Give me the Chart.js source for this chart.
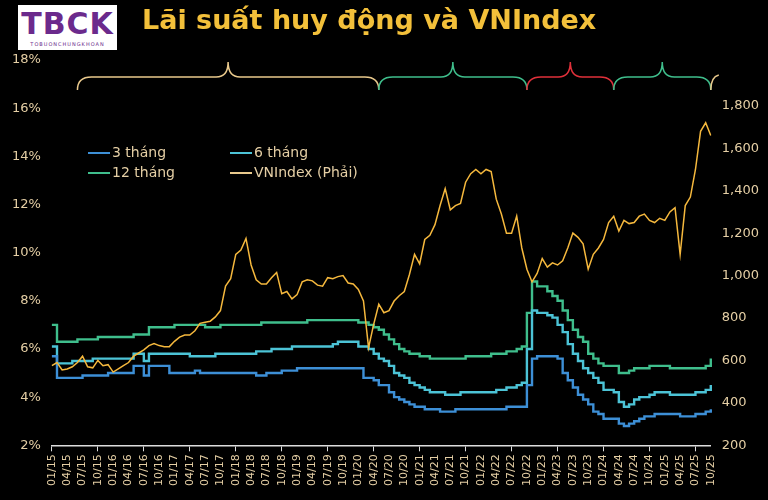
<!DOCTYPE html>
<html>
<head>
<meta charset="utf-8">
<script src="https://cdn.jsdelivr.net/npm/chart.js@4"></script>
<style>
  body { margin: 0; background: #000; }
  #wrap { position: relative; width: 768px; height: 500px; background: #000; }
  #logo { position: absolute; left: 18px; top: 5px; width: 99px; height: 45px; background: #fff; text-align: center; }
  #logo b { display: block; font: bold 30px "DejaVu Sans", sans-serif; color: #6b2a8c; line-height: 34px; margin-top: 2px; letter-spacing: 1px; }
  #logo span { display: block; font: 5px "DejaVu Sans", sans-serif; color: #6b2a8c; letter-spacing: 1px; }
  #title { position: absolute; left: 142px; top: 4px; font: bold 27px "DejaVu Sans", sans-serif; color: #f3c03a; }
  #legend { position: absolute; left: 88px; top: 144px; font: 14px "DejaVu Sans", sans-serif; color: #e5cfa5; }
  .it { position: absolute; white-space: nowrap; }
  .it i { display: inline-block; width: 22px; height: 2px; vertical-align: middle; margin-right: 2px; }
  canvas { position: absolute; left: 0; top: 0; }
</style>
</head>
<body>
<div id="wrap">
  <canvas id="chart" width="768" height="500"></canvas>
  <div id="logo"><b>TBCK</b><span>TOBUONCHUNGKHOAN</span></div>
  <div id="title">Lãi suất huy động và VNIndex</div>
  <div id="legend">
    <div class="it" style="left:0;top:0"><i style="background:#3d8fd6"></i>3 tháng</div>
    <div class="it" style="left:142px;top:0"><i style="background:#4cc3d6"></i>6 tháng</div>
    <div class="it" style="left:0;top:20px"><i style="background:#3fbe8c"></i>12 tháng</div>
    <div class="it" style="left:142px;top:20px"><i style="background:#e9c98c"></i>VNIndex (Phải)</div>
  </div>
</div>
<script>
// monthly, 01/15 .. 10/25
const months = [];
for (let y = 15; y <= 25; y++) {
  for (let m = 1; m <= 12; m++) {
    if (y === 25 && m > 10) break;
    months.push(String(m).padStart(2, "0") + "/" + y);
  }
}

const rate3m = [
  5.7,4.8,4.8,4.8,4.8,4.8,4.9,4.9,4.9,4.9,4.9,5.0,
  5.0,5.0,5.0,5.0,5.3,5.3,4.9,5.3,5.3,5.3,5.3,5.0,
  5.0,5.0,5.0,5.0,5.1,5.0,5.0,5.0,5.0,5.0,5.0,5.0,
  5.0,5.0,5.0,5.0,4.9,4.9,5.0,5.0,5.0,5.1,5.1,5.1,
  5.2,5.2,5.2,5.2,5.2,5.2,5.2,5.2,5.2,5.2,5.2,5.2,
  5.2,4.8,4.8,4.7,4.5,4.5,4.2,4.0,3.9,3.8,3.7,3.6,
  3.6,3.5,3.5,3.5,3.4,3.4,3.4,3.5,3.5,3.5,3.5,3.5,
  3.5,3.5,3.5,3.5,3.5,3.6,3.6,3.6,3.6,4.5,5.6,5.7,
  5.7,5.7,5.7,5.6,5.0,4.7,4.4,4.1,3.9,3.7,3.4,3.3,
  3.1,3.1,3.1,2.9,2.8,2.9,3.0,3.1,3.2,3.2,3.3,3.3,
  3.3,3.3,3.3,3.2,3.2,3.2,3.3,3.3,3.4,3.5
];
const rate6m = [
  6.1,5.4,5.4,5.4,5.5,5.5,5.5,5.5,5.6,5.6,5.6,5.6,
  5.6,5.6,5.6,5.6,5.8,5.8,5.5,5.8,5.8,5.8,5.8,5.8,
  5.8,5.8,5.8,5.7,5.7,5.7,5.7,5.7,5.8,5.8,5.8,5.8,
  5.8,5.8,5.8,5.8,5.9,5.9,5.9,6.0,6.0,6.0,6.0,6.1,
  6.1,6.1,6.1,6.1,6.1,6.1,6.1,6.2,6.3,6.3,6.3,6.3,
  6.1,6.1,6.0,5.8,5.6,5.5,5.3,5.0,4.9,4.8,4.6,4.5,
  4.4,4.3,4.2,4.2,4.2,4.1,4.1,4.1,4.2,4.2,4.2,4.2,
  4.2,4.2,4.2,4.3,4.3,4.4,4.4,4.5,4.6,6.0,7.6,7.5,
  7.5,7.4,7.3,7.0,6.7,6.2,5.8,5.5,5.2,5.0,4.8,4.6,
  4.3,4.3,4.2,3.8,3.6,3.7,3.9,4.0,4.0,4.1,4.2,4.2,
  4.2,4.1,4.1,4.1,4.1,4.1,4.2,4.2,4.3,4.5
];
const rate12m = [
  7.0,6.3,6.3,6.3,6.3,6.4,6.4,6.4,6.4,6.5,6.5,6.5,
  6.5,6.5,6.5,6.5,6.6,6.6,6.6,6.9,6.9,6.9,6.9,6.9,
  7.0,7.0,7.0,7.0,7.0,7.0,6.9,6.9,6.9,7.0,7.0,7.0,
  7.0,7.0,7.0,7.0,7.0,7.1,7.1,7.1,7.1,7.1,7.1,7.1,
  7.1,7.1,7.2,7.2,7.2,7.2,7.2,7.2,7.2,7.2,7.2,7.2,
  7.1,7.1,7.0,6.9,6.8,6.6,6.4,6.2,6.0,5.9,5.8,5.8,
  5.7,5.7,5.6,5.6,5.6,5.6,5.6,5.6,5.6,5.7,5.7,5.7,
  5.7,5.7,5.8,5.8,5.8,5.9,5.9,6.0,6.1,7.5,8.8,8.6,
  8.6,8.4,8.2,8.0,7.6,7.2,6.8,6.5,6.3,5.8,5.6,5.4,
  5.3,5.3,5.3,5.0,5.0,5.1,5.2,5.2,5.2,5.3,5.3,5.3,
  5.3,5.2,5.2,5.2,5.2,5.2,5.2,5.2,5.3,5.6
];
const vnindex = [
  575,590,555,560,570,590,620,570,565,600,575,580,
  545,560,575,590,620,635,650,670,680,670,665,665,
  690,710,720,720,740,775,780,785,805,835,950,985,
  1100,1120,1175,1050,980,960,960,990,1015,915,925,890,
  910,970,980,975,955,950,990,985,995,1000,965,960,
  935,880,660,770,865,825,835,880,905,925,1005,1100,
  1055,1170,1190,1240,1330,1410,1310,1330,1340,1440,1480,1500,
  1480,1500,1490,1360,1290,1200,1200,1280,1130,1030,970,1010,
  1080,1040,1060,1050,1070,1130,1200,1180,1150,1030,1100,1130,
  1170,1250,1280,1210,1260,1245,1250,1280,1290,1260,1250,1270,
  1260,1300,1320,1100,1330,1370,1500,1680,1720,1660
];
const leftTicks = [2, 4, 6, 8, 10, 12, 14, 16, 18];
const rightTicks = [200, 400, 600, 800, 1000, 1200, 1400, 1600, 1800];

// brace segments over the top: [start month, end month, colour]
const braceStarts = ["06/15", "05/20", "10/22", "03/24"];
const braceEnds = ["05/20", "10/22", "03/24", "10/25"];
const braceColors = ["#e9c98c", "#3fbe8c", "#e0303a", "#3fbe8c"];

const txt = "#e5cfa5";

const bracePlugin = {
  id: "braces",
  afterDraw(chart) {
    const { ctx, scales } = chart;
    const yTop = 62, yMid = 77, yBot = 90;
    ctx.save();
    ctx.lineWidth = 1.5;
    braceStarts.forEach((s, i) => {
      const x0 = scales.x.getPixelForValue(months.indexOf(s));
      const x1 = scales.x.getPixelForValue(months.indexOf(braceEnds[i]));
      const xm = (x0 + x1) / 2;
      ctx.strokeStyle = braceColors[i];
      ctx.beginPath();
      ctx.moveTo(x0, yBot);
      ctx.quadraticCurveTo(x0, yMid, x0 + 14, yMid);
      ctx.lineTo(xm - 12, yMid);
      ctx.quadraticCurveTo(xm, yMid, xm, yTop);
      ctx.quadraticCurveTo(xm, yMid, xm + 12, yMid);
      ctx.lineTo(x1 - 14, yMid);
      ctx.quadraticCurveTo(x1, yMid, x1, yBot);
      ctx.stroke();
    });
    // small tail at the right edge
    const xe = scales.x.getPixelForValue(months.length - 1);
    ctx.strokeStyle = "#e9c98c";
    ctx.beginPath();
    ctx.moveTo(xe, yBot);
    ctx.quadraticCurveTo(xe, yMid, xe + 8, yMid - 2);
    ctx.stroke();
    ctx.restore();
  },
};

function line(label, data, color, axis, stepped) {
  return {
    label, data, yAxisID: axis,
    borderColor: color, backgroundColor: color,
    borderWidth: axis === "y1" ? 1.5 : 2.4,
    pointRadius: 0, tension: 0, stepped: stepped,
  };
}

new Chart(document.getElementById("chart"), {
  type: "line",
  data: {
    labels: months,
    datasets: [
      line("VNIndex (Phải)", vnindex, "#f5b83d", "y1", false),
      line("3 tháng", rate3m, "#3d8fd6", "y", true),
      line("6 tháng", rate6m, "#4cc3d6", "y", true),
      line("12 tháng", rate12m, "#3fbe8c", "y", true),
    ],
  },
  options: {
    responsive: false,
    animation: false,
    layout: { padding: { top: 60, left: 9, right: 6, bottom: 11 } },
    plugins: { legend: { display: false }, tooltip: { enabled: false } },
    scales: {
      x: {
        offset: false,
        grid: {
          drawOnChartArea: false,
          color: (c) => (c.index % 3 === 0 ? "#ddd" : "transparent"),
          tickLength: 6,
        },
        border: { color: "#ddd", width: 1.5 },
        ticks: {
          autoSkip: false, maxRotation: 90, minRotation: 90,
          color: txt, font: { family: "DejaVu Sans", size: 11 },
          callback: (v, i) => (i % 3 === 0 ? months[i] : null),
        },
      },
      y: {
        position: "left", min: 2, max: 18,
        afterBuildTicks: (a) => { a.ticks = leftTicks.map((v) => ({ value: v })); },
        grid: { display: false }, border: { display: false },
        ticks: { color: txt, font: { family: "DejaVu Sans", size: 13 }, callback: (v) => v + "%" },
      },
      y1: {
        position: "right", min: 200, max: 2016,
        afterBuildTicks: (a) => { a.ticks = rightTicks.map((v) => ({ value: v })); },
        grid: { display: false }, border: { display: false },
        ticks: { color: txt, font: { family: "DejaVu Sans", size: 13 }, callback: (v) => v.toLocaleString("en-US") },
      },
    },
  },
  plugins: [bracePlugin],
});
</script>
</body>
</html>
